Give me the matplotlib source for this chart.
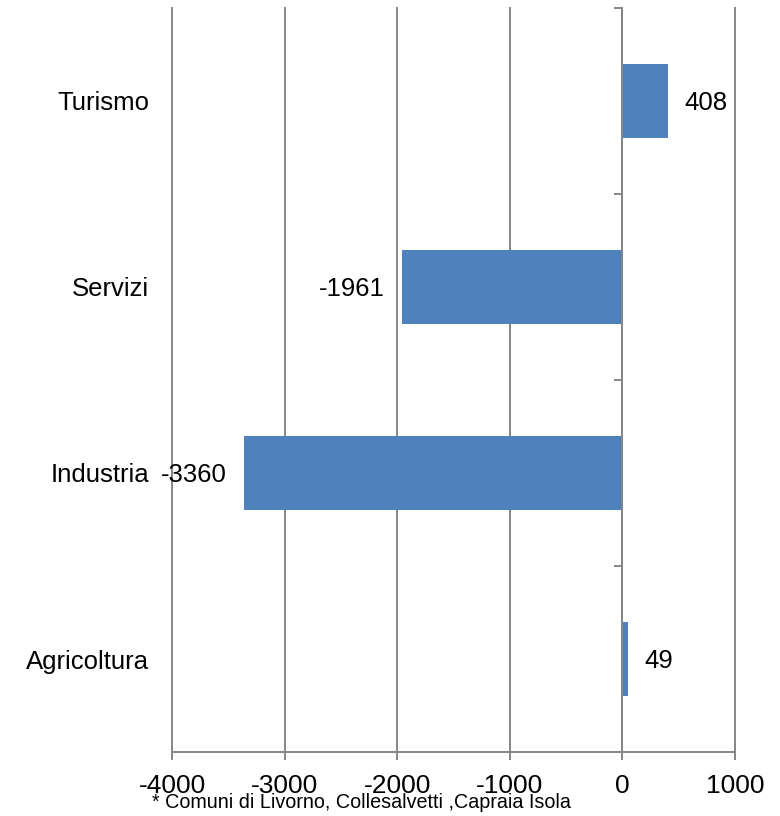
import matplotlib
matplotlib.use("Agg")
import matplotlib.pyplot as plt
import matplotlib.transforms as mtransforms

plt.rcParams['font.family'] = ['Liberation Sans', 'DejaVu Sans']

# Occupation change by sector
categories = ["Agricoltura", "Industria", "Servizi", "Turismo"]
values = [49, -3360, -1961, 408]
x_ticks = [-4000, -3000, -2000, -1000, 0, 1000]
footnote = "* Comuni di Livorno, Collesalvetti ,Capraia Isola"

bar_color = "#4F81BD"
grid_color = "#868686"
fs = 18.5

fig = plt.figure(figsize=(7.8, 8.16), dpi=100)
ax = fig.add_axes([172 / 780, 1 - 752 / 816, (735 - 172) / 780, (752 - 8) / 816])

ypos = list(range(len(categories)))
ax.barh(ypos, values, height=0.4, color=bar_color, zorder=3)

ax.set_xlim(x_ticks[0], x_ticks[-1])
ax.set_ylim(-0.5, len(categories) - 0.5)

# vertical gridlines
ax.set_xticks(x_ticks)
ax.set_xticklabels([str(t) for t in x_ticks], fontsize=19)
ax.xaxis.grid(True, color=grid_color, linewidth=1.4, zorder=0)
for gl in ax.get_xgridlines():
    gl.set_clip_on(False)
ax.tick_params(axis='x', direction='out', length=6, width=1.4, color=grid_color, pad=10)

# category axis sits at zero with ticks at band boundaries
ax.spines['left'].set_position(('data', 0))
ax.spines['left'].set_color(grid_color)
ax.spines['left'].set_linewidth(1.4)
ax.spines['left'].set_zorder(4)
ax.spines['bottom'].set_color(grid_color)
ax.spines['bottom'].set_linewidth(1.4)
ax.spines['top'].set_visible(False)
ax.spines['right'].set_visible(False)
ax.set_yticks([i - 0.5 for i in range(len(categories) + 1)])
ax.set_yticklabels([])
ax.tick_params(axis='y', direction='out', length=6, width=1.4, color=grid_color)

# category names to the left of the plot area
lab_tr = mtransforms.blended_transform_factory(ax.transAxes, ax.transData) + \
    mtransforms.ScaledTranslation(-23 / 100, 0, fig.dpi_scale_trans)
for y, name in zip(ypos, categories):
    ax.text(0, y, name, transform=lab_tr, ha='right', va='center_baseline', fontsize=fs)

# value labels next to the bar ends
for y, v in zip(ypos, values):
    off = 16 if v >= 0 else -17
    tr = ax.transData + mtransforms.ScaledTranslation(off / 100, 0, fig.dpi_scale_trans)
    ax.text(v, y, str(v), transform=tr, ha='left' if v >= 0 else 'right',
            va='center_baseline', fontsize=fs, zorder=5)

fig.text(152 / 780, 1 - 808 / 816, footnote, fontsize=14.2,
         ha='left', va='baseline')

fig.savefig("out.png", dpi=100)
